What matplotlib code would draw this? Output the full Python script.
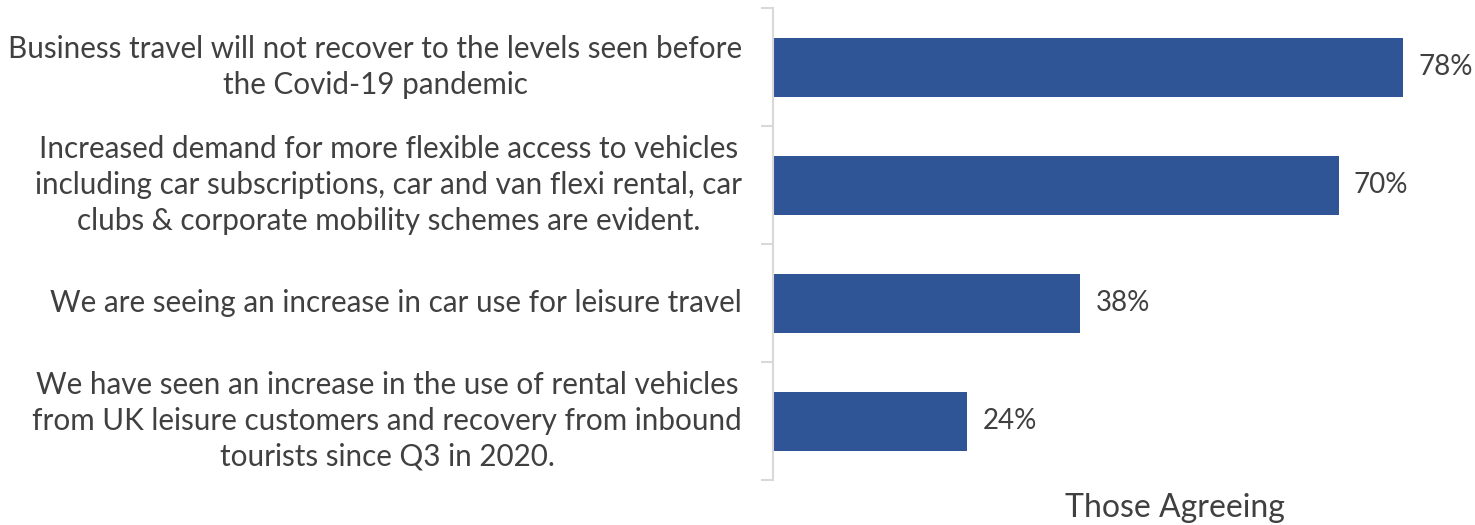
import numpy as np
import matplotlib.pyplot as plt

# Datos
categorias = [
    "Business travel will not recover to the levels seen before\nthe Covid-19 pandemic",
    "Increased demand for more flexible access to vehicles\nincluding car subscriptions, car and van flexi rental, car\nclubs & corporate mobility schemes are evident.",
    "We are seeing an increase in car use for leisure travel",
    "We have seen an increase in the use of rental vehicles\nfrom UK leisure customers and recovery from inbound\ntourists since Q3 in 2020.",
]
valores = [0.78, 0.70, 0.38, 0.24]
etiquetas = ["78%", "70%", "38%", "24%"]
titulo_x = "Those Agreeing"

plt.rcParams["font.family"] = ["Lato", "DejaVu Sans"]
color_texto = "#404040"

fig = plt.figure(figsize=(14.75, 5.25), dpi=100)
ax = fig.add_axes([773 / 1475, 45 / 525, 702 / 1475, 472 / 525])

y = np.arange(len(categorias))
ax.barh(y, valores, height=0.5, color="#2F5597")
ax.set_xlim(0, 702 / 8.08 / 100)
ax.set_ylim(len(categorias) - 0.5, -0.5)

# Etiquetas de valores
for yi, v, t in zip(y, valores, etiquetas):
    ax.text(v + 0.019, yi, t, va="center", ha="left", fontsize=20, color=color_texto)

# Etiquetas de categorias
for yi, c in zip(y, categorias):
    ax.text(-0.044, yi, c, va="center", ha="right", multialignment="center",
            fontsize=21.3, color=color_texto, linespacing=1.33,
            transform=ax.get_yaxis_transform())

# Eje
for s in ["top", "right", "bottom"]:
    ax.spines[s].set_visible(False)
ax.spines["left"].set_color("#d9d9d9")
ax.spines["left"].set_linewidth(1.5)
ax.set_yticks(np.arange(-0.5, len(categorias) + 0.5, 1))
ax.set_yticklabels([])
ax.tick_params(axis="y", length=9, width=1.5, color="#d9d9d9")
ax.set_xticks([])

fig.text(1175 / 1475, 1 - 508 / 525, titulo_x, ha="center", va="center",
         fontsize=23, color=color_texto)

fig.savefig("out.png", dpi=100)
